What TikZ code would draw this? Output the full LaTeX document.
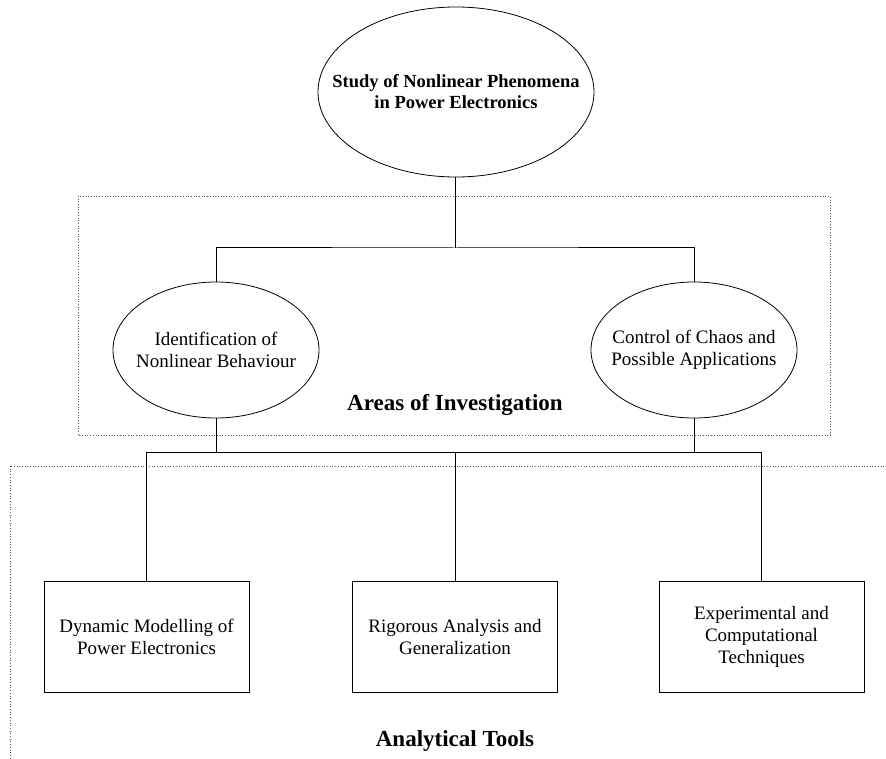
\documentclass[tikz,border=0pt]{standalone}
\usepackage{fontspec}
\setmainfont{Liberation Serif}
\usetikzlibrary{shapes.geometric}
\begin{document}
\begin{tikzpicture}[x=1pt,y=-1pt,
  conn/.style={line width=1pt,black},
  oval/.style={ellipse,draw,line width=0.8pt,inner sep=0pt},
  ovaltext/.style={align=center,inner sep=0pt,font=\fontsize{19}{22}\selectfont},
  toolbox/.style={rectangle,draw,line width=0.8pt,minimum width=205pt,minimum height=111pt,align=center,font=\fontsize{19}{22}\selectfont},
  area/.style={dotted,line width=0.7pt,gray!70!black},
  title/.style={font=\fontsize{23}{27}\selectfont\bfseries}]
\useasboundingbox (0,0) rectangle (886,759);
\clip (0,0) rectangle (886,759);
% dotted frames
\draw[area] (78,196) rectangle (830,435);
\draw[area] (10,466) rectangle (900,800);
% nodes
\node[oval,minimum width=276pt,minimum height=170pt] (top) at (456,92) {};
\node[ovaltext,font=\fontsize{18.5}{21}\selectfont\bfseries] (toptext) at (top.center) {Study of Nonlinear Phenomena\\in Power Electronics};
\node[oval,minimum width=206pt,minimum height=136pt] (ident) at (216,350) {};
\node[ovaltext] (identtext) at (ident.center) {Identification of\\Nonlinear Behaviour};
\node[oval,minimum width=206pt,minimum height=136pt] (ctrl) at (694,350) {};
\node[ovaltext] (ctrltext) at (ctrl.center) {Control of Chaos and\\Possible Applications};
\node[title] (areas) at (455,405) {Areas of Investigation};
\node[toolbox] (dyn) at (146.5,636.5) {Dynamic Modelling of\\Power Electronics};
\node[toolbox] (rig) at (455,636.5) {Rigorous Analysis and\\Generalization};
\node[toolbox] (exp) at (761.5,636.5) {Experimental and\\Computational\\Techniques};
\node[title] (tools) at (455,741) {Analytical Tools};
% connectors
\coordinate (j1) at (455,248);
\coordinate (j2) at (455,452);
\draw[conn] (top.south -| j1) -- (j1);
\draw[conn] (ident.north) |- (j1) -| (ctrl.north);
\draw[conn] (ident.south) |- (j2);
\draw[conn] (ctrl.south) |- (j2);
\draw[conn] (dyn.north) |- (j2) -| (exp.north);
\draw[conn] (j2) -- (rig.north);
\end{tikzpicture}
\end{document}
